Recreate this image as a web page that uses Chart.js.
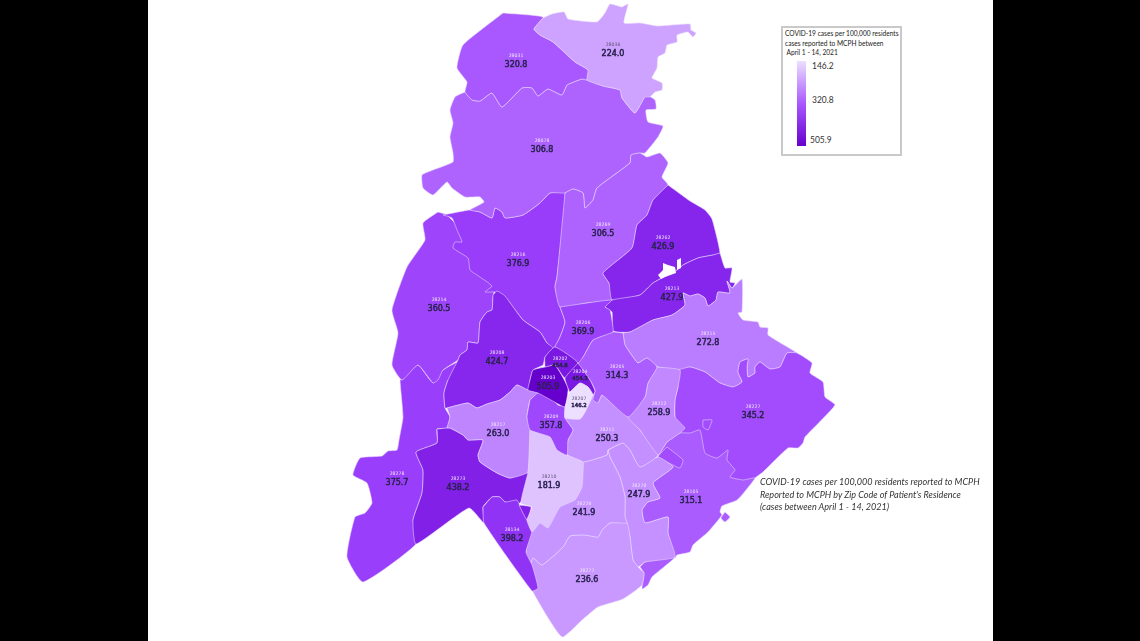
<!DOCTYPE html>
<html>
<head>
<meta charset="utf-8">
<title>COVID-19 cases per 100,000 residents by zip code</title>
<script src="https://cdn.jsdelivr.net/npm/chart.js@4"></script>
<style>
  html, body { margin: 0; height: 100%; background: #000; overflow: hidden; }
  #page { position: absolute; left: 148px; top: 0; width: 845px; height: 641px; background: #fff; }
  #myChart { filter: blur(0.35px); }
  #legend { position: absolute; left: 781px; top: 26px; width: 117px; height: 126px; border: 2px solid #c9c9c9; background: #fff; font-family: Lato, sans-serif; color: #222; }
  #legend div { position: absolute; white-space: nowrap; transform-origin: left center; }
  .legendTitle { left: 2px; font-size: 7.6px; line-height: 9px; transform: scaleX(0.87); }
  .legendTick { font-size: 9.6px; line-height: 10px; color: #333; transform: scaleX(0.88); }
  #legendBar { left: 14px; top: 33px; width: 9px; height: 85px; }
  .note { position: absolute; left: 760px; font: italic 10.3px/12px Lato, sans-serif; color: #333; white-space: nowrap; transform: scaleX(0.88); transform-origin: left center; }
</style>
</head>
<body>
<div id="page"><canvas id="myChart" width="845" height="641"></canvas></div>
<div id="legend">
  <div class="legendTitle" style="top:1px">COVID-19 cases per 100,000 residents</div>
  <div class="legendTitle" style="top:11px">cases reported to MCPH between</div>
  <div class="legendTitle" style="top:20px">&nbsp;April 1 - 14, 2021</div>
  <div id="legendBar"></div>
  <div class="legendTick" style="left:29px;top:33px">146.2</div>
  <div class="legendTick" style="left:29px;top:67px">320.8</div>
  <div class="legendTick" style="left:27px;top:107px">505.9</div>
</div>
<div class="note" style="top:475px">COVID-19 cases per 100,000 residents reported to MCPH</div>
<div class="note" style="top:488px">Reported to MCPH by Zip Code of Patient's Residence</div>
<div class="note" style="top:500px">(cases between April 1 - 14, 2021)</div>
<script>
// Zip codes and their rates
const zipCodes = ["28031","28036","28078","28269","28216","28214","28278","28208","28217","28273","28134","28209","28203","28202","28204","28207","28206","28262","28213","28215","28205","28212","28227","28105","28211","28270","28226","28277","28210"];
const caseRates = [320.8,224.0,306.8,306.5,376.9,360.5,375.7,424.7,263.0,438.2,398.2,357.8,505.9,454.8,454.3,146.2,369.9,426.9,427.9,272.8,314.3,258.9,345.2,315.1,250.3,247.9,241.9,236.6,181.9];

// Where each label sits on the map
const labelX = [516,613,542,603,518,439,397,497,498,458,512,551,548,560,580,579,583,663,672,708,617,659,753,691,607,639,584,587,549];
const labelY = [65,54,150,234,264,309,483,362,434,488,539,426,387,366,379,406,332,247,298,343,376,413,416,501,439,495,513,580,486];
const smallLabels = ["28202","28204","28207"];
const darkZipLabels = ["28036","28207","28210"];

// Colour ramp: rate -> colour
const rampRates = [146.2,320.8,380,430,505.9];
const rampColors = [[236,223,255],[169,88,255],[152,60,251],[133,36,235],[102,0,204]];

const outline28278 = [402,380,418,365,433,383,443,370,458,362,452,378,448,380,444,393,445,408,450,417,447,428,437,429,437,443,416,452,423,470,422,493,413,520,416,544,363,582,347,557,355,517,365,513,372,503,367,483,353,475,360,458,382,456,388,451,397,450,399,440,403,417,400,380];
const outline28214 = [438,212,447,215,470,240,495,285,493,297,492,310,487,312,480,322,478,343,468,342,467,350,460,355,458,360,443,370,438,380,433,383,418,365,402,380,392,365,398,333,392,310,407,267,425,240,423,223];
const outline28216 = [443,215,470,210,480,212,492,218,495,208,502,212,505,218,523,215,540,203,550,193,565,193,557,277,555,287,560,307,565,322,560,337,553,350,547,343,540,332,523,320,505,297,495,292,485,292,492,286,477,275,470,270,468,258,453,248,455,242,462,242,457,230,452,218];
const outline28208 = [493,295,497,291,505,296,523,320,540,332,547,343,553,348,545,357,543,365,533,370,530,380,528,390,517,385,510,392,500,400,487,404,477,408,468,403,447,408,445,408,444,393,448,380,458,360,460,355,467,350,468,342,478,343,480,322,487,312,492,310];
const outline28078 = [465,92,472,100,480,101,492,93,502,107,522,88,532,88,538,96,548,89,562,95,567,85,582,79,587,80,603,86,620,90,622,98,635,113,646,95,655,100,656,109,646,110,648,122,663,126,658,137,645,153,640,153,631,155,630,163,597,188,593,200,585,208,583,193,573,189,565,193,550,193,540,203,523,215,505,218,502,212,495,208,492,218,480,212,470,210,484,202,480,197,465,197,452,188,447,182,433,195,423,188,422,175,433,170,453,162,453,153,450,137,453,123,450,110,455,97];
const outline28269 = [565,193,573,189,583,193,585,208,593,200,597,188,630,163,631,155,640,153,647,157,660,153,668,163,662,177,668,185,653,200,647,215,637,225,632,248,603,273,609,283,612,300,587,303,560,307,555,287,557,277];
const outline28031 = [503,13,543,17,534,29,540,35,553,42,575,62,588,70,587,80,582,79,567,85,562,95,548,89,538,96,532,88,522,88,502,107,492,93,480,101,472,100,465,92,467,82,457,68,463,45];
const outline28036 = [543,18,552,14,564,12,568,19,597,22,605,13,610,4,622,7,628,4,624,23,640,23,657,26,690,24,691,30,696,33,693,37,688,32,677,35,677,42,667,45,665,53,658,57,657,68,652,78,662,83,662,90,655,92,650,97,645,97,635,113,622,98,620,90,603,86,587,80,588,70,575,62,553,42,540,35,534,29];
const outline28262 = [668,185,690,201,705,210,712,219,720,253,713,255,698,258,683,265,677,270,653,283,640,295,612,300,609,283,603,273,632,248,637,225,647,215,653,200];
const outline28213 = [720,253,725,268,732,268,730,282,735,283,732,288,727,281,730,293,718,292,716,300,708,306,705,298,698,294,690,296,683,293,685,305,672,315,653,320,630,332,613,331,612,312,605,307,612,300,640,295,653,283,677,270,683,265,698,258,713,255];
const outline28215 = [623,333,630,332,653,320,672,315,685,305,683,293,690,296,698,294,705,298,708,306,716,300,718,292,730,293,727,281,732,288,742,279,742,312,738,313,743,320,758,322,760,327,768,328,768,335,797,353,787,353,780,367,770,369,760,362,755,367,755,373,748,377,747,367,748,359,740,362,738,372,742,382,733,387,720,383,705,372,690,367,680,370,658,367,647,358,638,363,633,357,625,345];
const outline28227 = [678,370,690,367,705,372,720,383,733,387,742,382,738,372,740,362,748,359,747,367,748,377,755,373,755,367,760,362,770,369,780,367,787,353,797,353,812,363,810,373,823,382,825,397,835,405,805,437,803,443,798,448,788,448,763,472,755,478,737,500,700,500,680,433,675,417,675,400,678,387];
const outline28227b = [703,420,712,420,708,430,703,427];
const outline28227c = [667,447,683,460,680,468,673,465,658,457];
const outline28105 = [665,445,667,442,680,433,690,433,700,430,705,453,717,458,728,450,727,460,735,470,730,477,743,480,755,478,737,500,722,506,720,512,722,515,708,532,693,545,690,552,677,555,675,558,668,533,668,517,645,523,642,510,648,502,660,498,653,483,673,467,658,457];
const outline28105b = [640,567,645,562,675,557,652,577,648,585,642,589,644,573];
const outline28105c = [725,512,730,517,725,522,721,518];
const outline28211 = [585,412,593,395,598,403,602,395,628,417,640,430,658,455,640,467,630,450,623,443,608,450,607,455,583,462,567,455,568,440,573,430,565,418,580,419];
const outline28212 = [657,367,680,370,678,387,675,400,675,417,685,428,680,433,667,442,665,445,658,455,640,430,628,417,645,397,648,383];
const outline28205 = [623,333,625,345,633,357,638,363,647,358,657,367,648,383,645,397,628,417,602,395,598,403,593,400,595,390,590,380,578,363,583,357,593,340,613,332];
const outline28206 = [560,307,587,303,612,300,605,307,610,310,613,327,613,332,593,340,583,357,578,363,555,347,553,350,560,337,565,322];
const outline28270 = [608,450,623,443,630,450,640,467,658,457,673,467,653,483,660,498,648,502,642,510,645,523,668,517,668,533,675,557,645,562,638,567,633,560,630,537,627,523,625,517,625,497,620,477,610,457];
const outline28226 = [567,455,583,462,607,455,608,450,610,457,620,477,625,497,625,517,627,523,610,523,602,530,598,537,585,535,570,536,563,547,542,565,533,558,529,568,526,553,530,530,540,515,560,495,575,490];
const outline28277 = [529,568,533,558,542,565,563,547,570,536,585,535,598,537,602,530,610,523,627,523,630,537,633,560,638,567,644,573,642,585,623,599,598,607,582,620,562,637,532,590];
const outline28273 = [437,429,447,428,450,428,463,435,468,440,483,440,478,455,480,462,497,473,510,478,528,472,528,483,520,503,505,502,500,497,492,497,483,507,484,523,469,508,416,544,413,520,422,493,423,470,416,452,437,443];
const outline28273b = [519,505,531,507,527,520];
const outline28217 = [447,408,468,403,477,408,487,404,500,400,510,392,517,385,528,390,538,393,530,400,527,417,530,430,528,472,510,478,497,473,480,462,478,455,483,440,468,440,463,435,450,428,447,428,450,417];
const outline28134 = [483,507,492,497,500,497,505,502,517,500,520,506,527,520,532,531,526,552,532,565,538,588,532,591,484,523];
const outline28210 = [530,430,550,437,557,450,567,455,583,462,583,473,582,487,575,500,560,507,548,528,540,523,532,532,527,520,532,507,521,503,528,472];
const outline28209 = [530,400,538,393,550,397,558,405,565,407,565,418,573,430,568,440,567,455,557,450,550,437,530,430,527,417];
const outline28203 = [530,380,533,370,545,367,555,365,568,388,565,407,560,405,538,393,528,390];
const outline28202 = [545,367,545,357,555,347,578,363,565,378,555,365];
const outline28204 = [578,363,590,380,595,391,593,395,588,387,580,383,570,392,568,388,565,378];
const outline28207 = [570,392,580,383,588,387,593,395,585,412,580,419,565,418,565,407];

// Paint order, larger zones first so the small ones sit on top
const outlineZips = ["28278","28214","28216","28208","28078","28269","28031","28036","28262","28213","28215","28227","28227","28105","28227","28105","28105","28270","28277","28226","28211","28212","28205","28206","28273","28217","28134","28273","28210","28209","28203","28202","28204","28207"];
const outlines = [outline28278,outline28214,outline28216,outline28208,outline28078,outline28269,outline28031,outline28036,outline28262,outline28213,outline28215,outline28227,outline28227b,outline28105,outline28227c,outline28105b,outline28105c,outline28270,outline28277,outline28226,outline28211,outline28212,outline28205,outline28206,outline28273,outline28217,outline28134,outline28273b,outline28210,outline28209,outline28203,outline28202,outline28204,outline28207];

// The two blank patches inside 28262 have no data
const blankPatchA = [663,263,668,265,675,267,676,273,665,277,661,279,658,275,663,270];
const blankPatchB = [677,260,681,258,681,268,677,270];

function rateColor(rate) {
  let i = 0;
  while (i < rampRates.length - 2 && rate > rampRates[i + 1]) i++;
  const t = (rate - rampRates[i]) / (rampRates[i + 1] - rampRates[i]);
  const c = rampColors[i].map((v, k) => Math.round(v + (rampColors[i + 1][k] - v) * t));
  return `rgb(${c[0]},${c[1]},${c[2]})`;
}

function toPoints(flat) {
  const pts = [];
  for (let i = 0; i < flat.length; i += 2) pts.push({ x: flat[i], y: flat[i + 1] });
  pts.push({ x: flat[0], y: flat[1] });
  return pts;
}

const datasets = outlines.map((outline, i) => {
  const color = rateColor(caseRates[zipCodes.indexOf(outlineZips[i])]);
  return {
    label: outlineZips[i],
    data: toPoints(outline),
    showLine: true,
    fill: "shape",
    backgroundColor: color,
    borderColor: "rgba(232,218,255,0.7)",
    borderWidth: 0.8,
    pointRadius: 0,
    tension: 0.15,
  };
});

[blankPatchA, blankPatchB].forEach((patch) => {
  datasets.push({
    label: "no data",
    data: toPoints(patch),
    showLine: true,
    fill: "shape",
    backgroundColor: "#fff",
    borderWidth: 0,
    pointRadius: 0,
  });
});

// Chart.js paints the first dataset last, so flip the list
datasets.reverse();

// Draws the zip code and the rate over each zone
const zoneLabels = {
  id: "zoneLabels",
  afterDatasetsDraw(chart) {
    const { ctx, scales } = chart;
    ctx.save();
    ctx.textAlign = "center";
    ctx.textBaseline = "middle";
    zipCodes.forEach((zip, i) => {
      const x = scales.x.getPixelForValue(labelX[i]);
      const y = scales.y.getPixelForValue(labelY[i]);
      const small = smallLabels.includes(zip);
      ctx.font = '4.6px "DejaVu Sans"';
      ctx.fillStyle = darkZipLabels.includes(zip) ? "#5b5470" : "#f0e6ff";
      ctx.fillText(zip, x, y - (small ? 7.5 : 9.5));
      ctx.font = small ? '5.4px "DejaVu Sans"' : '8px "DejaVu Sans"';
      ctx.fillStyle = "#2b2350";
      ctx.strokeStyle = "#2b2350";
      ctx.lineWidth = 0.5;
      ctx.fillText(caseRates[i].toFixed(1), x, y);
      ctx.strokeText(caseRates[i].toFixed(1), x, y);
    });
    ctx.restore();
  },
};

const ctx = document.getElementById("myChart");

new Chart(ctx, {
  type: "scatter",
  data: { datasets: datasets },
  options: {
    responsive: false,
    animation: false,
    events: [],
    layout: { padding: 0 },
    plugins: { legend: { display: false }, tooltip: { enabled: false } },
    scales: {
      x: { type: "linear", min: 148, max: 993, display: false },
      y: { type: "linear", min: 0, max: 641, reverse: true, display: false },
    },
  },
  plugins: [zoneLabels],
});

document.getElementById("legendBar").style.background =
  `linear-gradient(to bottom, ${rateColor(146.2)}, ${rateColor(320.8)}, ${rateColor(505.9)})`;
</script>
</body>
</html>
